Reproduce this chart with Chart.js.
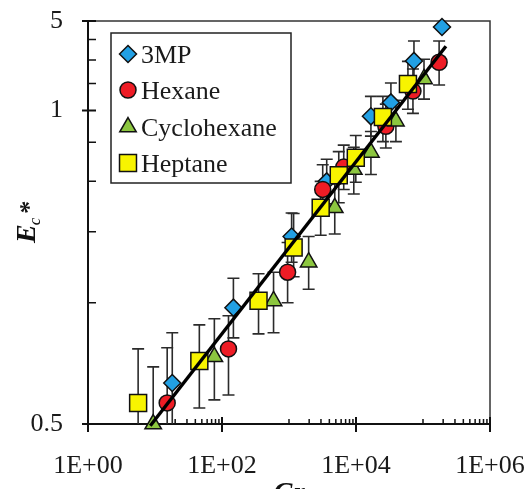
<!DOCTYPE html>
<html>
<head>
<meta charset="utf-8">
<script src="https://cdn.jsdelivr.net/npm/chart.js@4.4.0/dist/chart.umd.min.js"></script>
<style>
  html, body { margin: 0; padding: 0; background: #fff; }
  #wrap { width: 526px; height: 489px; }
</style>
</head>
<body>
<div id="wrap"><canvas id="chart" width="526" height="489"></canvas></div>
<script>
// --- data (Gr on x, Ec* on y, both log) ---
const gr3MP = [18.1, 148, 1094, 3655, 16700, 33200, 73300, 192000];
const e3MP = [0.632, 0.972, 1.46, 2.0, 2.9, 3.14, 3.98, 4.83];
const e3MPLow = [0.475, 0.818, 1.26, 1.76, 2.59, 2.82, 3.55, null];
const e3MPHigh = [0.842, 1.15, 1.67, 2.27, 3.25, 3.51, 4.46, null];

const grHexane = [15.2, 125, 953, 3185, 6560, 27900, 70800, 174000];
const eHexane = [0.564, 0.768, 1.19, 1.91, 2.17, 2.74, 3.35, 3.95];
const eHexaneLow = [0.412, 0.59, 1.0, 1.66, 1.91, 2.42, 2.95, 3.47];
const eHexaneHigh = [0.773, 0.928, 1.41, 2.2, 2.46, 3.11, 3.8, 4.46];

const grCyclo = [9.4, 76.9, 588, 1965, 4820, 9270, 16700, 39400, 103500];
const eCyclo = [0.5, 0.734, 1.01, 1.26, 1.72, 2.14, 2.36, 2.82, 3.59];
const eCycloLow = [0.36, 0.574, 0.842, 1.08, 1.48, 1.86, 2.08, 2.51, 3.2];
const eCycloHigh = [0.693, 0.912, 1.19, 1.46, 1.97, 2.43, 2.66, 3.18, 4.02];

const grHeptane = [5.6, 45.9, 351, 1172, 2972, 5530, 9930, 25200, 59600];
const eHeptane = [0.564, 0.717, 1.011, 1.37, 1.72, 2.07, 2.29, 2.89, 3.49];
const eHeptaneLow = [0.414, 0.548, 0.837, 1.16, 1.47, 1.77, 1.99, 2.51, 3.02];
const eHeptaneHigh = [0.768, 0.881, 1.18, 1.665, 2.0, 2.37, 2.6, 3.25, 3.97];

const fitGr = [8.5, 220000];
const fitE = [0.495, 4.33];

const xTickValues = [1, 100, 10000, 1000000];
const xTickLabels = ['1E+00', '1E+02', '1E+04', '1E+06'];
const xMinorTicks = [1, 2, 3, 4, 5, 6, 7, 8, 9].flatMap(k => [k * 10, k * 1000, k * 100000]);
const yTickValues = [0.5, 3, 5];
const yTickLabels = ['0.5', '1', '5'];
const yMinorTicks = [1, 1.5, 2, 2.5, 3.5, 4, 4.5];

const SERIF = '"Liberation Serif", "Times New Roman", serif';
const toPts = (xs, ys) => xs.map((x, i) => ({ x, y: ys[i] }));

const series = [
  { label: '3MP', xs: gr3MP, ys: e3MP, lo: e3MPLow, hi: e3MPHigh, style: 'rectRot', r: 8.5, color: '#22a0e4', order: 4 },
  { label: 'Hexane', xs: grHexane, ys: eHexane, lo: eHexaneLow, hi: eHexaneHigh, style: 'circle', r: 8, color: '#ee1c25', order: 3 },
  { label: 'Cyclohexane', xs: grCyclo, ys: eCyclo, lo: eCycloLow, hi: eCycloHigh, style: 'triangle', r: 9.5, color: '#8cc63f', order: 2 },
  { label: 'Heptane', xs: grHeptane, ys: eHeptane, lo: eHeptaneLow, hi: eHeptaneHigh, style: 'rect', r: 12, color: '#f8f400', order: 1 },
];

const axesPlugin = {
  id: 'axesPlugin',
  beforeDatasetsDraw(chart) {
    const { ctx, chartArea: a, scales: { x, y } } = chart;
    ctx.save();
    // frame
    ctx.strokeStyle = '#333';
    ctx.lineWidth = 1.5;
    ctx.strokeRect(a.left, a.top, a.right - a.left, a.bottom - a.top);
    ctx.strokeStyle = '#111';
    ctx.lineWidth = 2;
    ctx.beginPath();
    ctx.moveTo(a.left, a.top); ctx.lineTo(a.left, a.bottom); ctx.lineTo(a.right, a.bottom);
    // x ticks
    xTickValues.forEach(v => { const px = x.getPixelForValue(v); ctx.moveTo(px, a.bottom - 7); ctx.lineTo(px, a.bottom + 8); });
    // y ticks
    yTickValues.forEach(v => { const py = y.getPixelForValue(v); ctx.moveTo(a.left - 6, py); ctx.lineTo(a.left + 8, py); });
    ctx.stroke();
    ctx.lineWidth = 1.5;
    ctx.beginPath();
    xMinorTicks.forEach(v => { const px = x.getPixelForValue(v); ctx.moveTo(px, a.bottom); ctx.lineTo(px, a.bottom - 5); });
    yMinorTicks.forEach(v => { const py = y.getPixelForValue(v); ctx.moveTo(a.left, py); ctx.lineTo(a.left + 8, py); });
    ctx.stroke();

    // error bars, behind the markers
    ctx.beginPath();
    ctx.rect(a.left, a.top, a.right - a.left, a.bottom - a.top);
    ctx.clip();
    ctx.strokeStyle = '#2b2b2b';
    ctx.lineWidth = 1.6;
    series.forEach(s => {
      s.xs.forEach((gx, i) => {
        if (s.lo[i] == null || s.hi[i] == null) return;
        const px = x.getPixelForValue(gx);
        const p1 = y.getPixelForValue(s.lo[i]);
        const p2 = y.getPixelForValue(s.hi[i]);
        ctx.beginPath();
        ctx.moveTo(px, p1); ctx.lineTo(px, p2);
        ctx.moveTo(px - 6, p1); ctx.lineTo(px + 6, p1);
        ctx.moveTo(px - 6, p2); ctx.lineTo(px + 6, p2);
        ctx.stroke();
      });
    });
    ctx.restore();
  },
  afterDraw(chart) {
    const { ctx, chartArea: a } = chart;
    ctx.save();
    // legend box
    ctx.fillStyle = '#fff';
    ctx.fillRect(111, 33, 180, 150);
    ctx.strokeStyle = '#222';
    ctx.lineWidth = 1.5;
    ctx.strokeRect(111, 33, 180, 150);
    const rows = [54, 90, 127, 163];
    series.forEach((s, i) => {
      ctx.fillStyle = s.color;
      ctx.strokeStyle = '#111';
      ctx.lineWidth = 1.5;
      Chart.helpers.drawPoint(ctx, { pointStyle: s.style, radius: s.r, rotation: 0, borderWidth: 1.5 }, 128, rows[i]);
      ctx.fillStyle = '#1a1a1a';
      ctx.font = `26px ${SERIF}`;
      ctx.textBaseline = 'alphabetic';
      ctx.textAlign = 'left';
      ctx.fillText(s.label, 141, rows[i] + 8.5);
    });

    // axis titles
    ctx.fillStyle = '#111';
    ctx.font = `bold italic 28px ${SERIF}`;
    ctx.textAlign = 'center';
    ctx.fillText('Gr', (a.left + a.right) / 2, 501);

    ctx.translate(35, 243);
    ctx.rotate(-Math.PI / 2);
    ctx.textAlign = 'left';
    ctx.font = `bold italic 28px ${SERIF}`;
    ctx.fillText('E', 0, 0);
    const wE = ctx.measureText('E').width;
    ctx.font = `italic 17px ${SERIF}`;
    ctx.fillText('c', wE - 1, 5);
    const wc = ctx.measureText('c').width;
    ctx.font = `bold italic 26px ${SERIF}`;
    ctx.fillText('*', wE + wc + 2, 2);
    ctx.restore();
  }
};

const datasets = series.map(s => ({
  label: s.label,
  data: toPts(s.xs, s.ys),
  pointStyle: s.style,
  pointRadius: s.r,
  pointHoverRadius: s.r,
  pointBackgroundColor: s.color,
  pointBorderColor: '#111',
  pointBorderWidth: 1.5,
  showLine: false,
  clip: false,
  order: s.order,
}));
datasets.push({
  label: 'fit',
  data: toPts(fitGr, fitE),
  showLine: true,
  borderColor: '#000',
  borderWidth: 3.4,
  pointRadius: 0,
  clip: false,
  order: 0,
});

new Chart(document.getElementById('chart'), {
  type: 'scatter',
  data: { datasets },
  options: {
    responsive: false,
    animation: false,
    layout: { padding: { top: 21, right: 36, left: 0, bottom: 0 } },
    plugins: { legend: { display: false }, tooltip: { enabled: false } },
    scales: {
      x: {
        type: 'logarithmic',
        min: 1,
        max: 1000000,
        afterBuildTicks: s => { s.ticks = xTickValues.map(v => ({ value: v })); },
        afterFit: s => { s.height = 65; s.paddingLeft = 0; s.paddingRight = 0; },
        grid: { display: false },
        border: { display: false },
        ticks: {
          autoSkip: false,
          maxRotation: 0,
          padding: 19,
          color: '#1a1a1a',
          font: { family: SERIF, size: 26 },
          callback: (v, i) => xTickLabels[i],
        },
      },
      y: {
        type: 'logarithmic',
        min: 0.5,
        max: 5,
        afterBuildTicks: s => { s.ticks = yTickValues.map(v => ({ value: v })); },
        afterFit: s => { s.width = 88; s.paddingTop = 0; s.paddingBottom = 0; },
        grid: { display: false },
        border: { display: false },
        ticks: {
          autoSkip: false,
          padding: 17,
          color: '#1a1a1a',
          font: { family: SERIF, size: 26 },
          callback: (v, i) => yTickLabels[i],
        },
      },
    },
  },
  plugins: [axesPlugin],
});
</script>
</body>
</html>
